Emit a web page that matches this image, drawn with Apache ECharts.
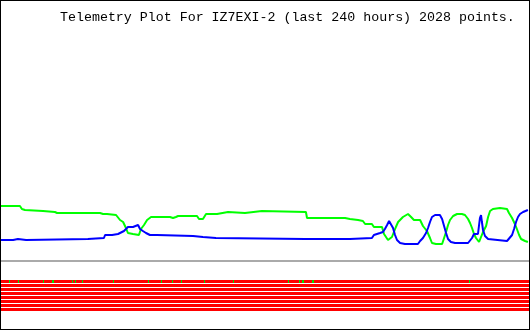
<!DOCTYPE html>
<html><head><meta charset="utf-8">
<script src="https://cdn.jsdelivr.net/npm/echarts@6/dist/echarts.min.js"></script>
<style>
html,body{margin:0;padding:0;background:#fff;}
#wrap{position:relative;width:530px;height:330px;}
#chart{width:530px;height:330px;}
#frame{position:absolute;left:0;top:0;width:530px;height:330px;box-sizing:border-box;border:1px solid #000;pointer-events:none;}
</style></head><body>
<div id="wrap"><div id="chart"></div><div id="frame"></div></div>
<script>
const titleText = 'Telemetry Plot For IZ7EXI-2 (last 240 hours) 2028 points.';

// analog channel A (green), hours into the 240 h window -> value
const greenHours = [0, 8.6, 9.5, 10.9, 11.8, 19.1, 20, 24.5, 25.5, 45, 46.4, 47.3, 48.2, 52.3, 53.2, 54.1, 55.5, 56.8, 57.7, 60, 62.7, 63.6, 65, 66.4, 68.2, 76.8, 78.2, 79.5, 80.5, 86.8, 87.3, 87.7, 89.1, 90, 91.8, 92.3, 93.2, 98.2, 98.6, 103.2, 104.1, 110.9, 111.8, 118.6, 119.5, 138.6, 139.1, 156.4, 158.6, 162.3, 164.5, 165.5, 168.6, 169.5, 173.2, 174.1, 175, 175.9, 176.8, 177.7, 178.6, 179.5, 180.5, 182.7, 185, 186.4, 187.7, 190.5, 191.8, 193.6, 195, 195.9, 197.7, 200.5, 201.4, 202.3, 203.2, 204.1, 205.5, 207.3, 209.5, 210.9, 212.3, 213.2, 214.1, 215, 215.9, 217.3, 218.2, 219.1, 220.5, 221.4, 222.3, 223.6, 226.8, 230, 230.9, 232.3, 233.6, 234.5, 235.5, 236.4, 238.2, 239.5];
const greenValues = [55, 55, 52, 51, 50, 50, 49, 49, 48, 48, 47, 45, 47, 46, 44, 41, 39, 33, 28, 27, 26, 32, 36, 41, 44, 44, 43, 44, 45, 45, 46, 43, 45, 42, 42, 44, 47, 47, 49, 49, 48, 48, 50, 50, 49, 49, 43, 43, 42, 41, 40, 37, 37, 34, 34, 27, 24, 21, 19, 24, 29, 34, 39, 44, 47, 44, 41, 41, 35, 30, 23, 18, 17, 17, 23, 29, 36, 41, 45, 47, 47, 46, 42, 38, 33, 27, 23, 19, 21, 29, 35, 44, 50, 52, 53, 52, 48, 43, 37, 32, 26, 22, 20, 19];

// analog channel B (blue)
const blueHours = [0, 5.5, 5.9, 7.7, 8.2, 11.4, 11.8, 39.5, 40, 46.8, 47.3, 50.5, 50.9, 53.2, 54.1, 55.9, 56.8, 57.7, 60, 60.5, 62.3, 63.2, 64.5, 65.9, 67.7, 70.9, 71.4, 87.3, 87.7, 91.8, 92.3, 97.7, 98.2, 138.2, 139.1, 139.5, 158.6, 159.5, 168.6, 169.5, 172.3, 173.6, 174.5, 175.5, 176.4, 177.3, 178.2, 179.1, 180, 181.4, 183.6, 189.5, 190.5, 191.8, 193.2, 194.1, 195, 195.9, 197.3, 199.5, 200.5, 201.4, 202.3, 203.2, 204.5, 206.4, 212.3, 213.2, 214.1, 215, 216.8, 217.7, 218.2, 218.6, 219.1, 220, 221.4, 222.3, 230, 230.9, 232.3, 233.2, 234.1, 235, 235.9, 237.3, 239.5];
const blueValues = [21, 21, 22, 22, 21, 21, 22, 22, 23, 23, 26, 26, 27, 27, 29, 30, 31, 34, 34, 36, 36, 32, 30, 28, 26, 26, 25, 25, 24, 24, 23, 23, 22, 22, 21, 22, 22, 23, 23, 26, 28, 29, 32, 36, 40, 41, 33, 26, 21, 18, 17, 17, 20, 23, 28, 33, 39, 44, 46, 46, 42, 35, 28, 22, 19, 18, 18, 19, 23, 27, 27, 43, 46, 39, 31, 25, 22, 21, 20, 22, 26, 32, 39, 44, 47, 49, 51];

// digital bits
const bitNames = ['B1', 'B2', 'B3', 'B4', 'B5', 'B6', 'B7', 'B8'];
const bitOnStart = [3.64, 7.73, 19.09, 23.18, 32.27, 33.64, 36.82, 50.91, 66.82, 72.73, 77.73, 81.82, 92.27, 105.45, 130.45, 135.45, 136.82, 141.36, 212.73];
const bitOnEnd   = [4.09, 8.18, 19.55, 24.09, 32.73, 34.09, 37.27, 51.36, 67.27, 73.18, 78.18, 82.27, 92.73, 105.91, 130.91, 135.91, 137.73, 142.27, 213.18];
const bitOnRow   = [0, 0, 0, 0, 0, 0, 0, 0, 0, 0, 0, 0, 0, 0, 0, 0, 0, 0, 0];

const zip = (xs, ys) => xs.map((x, i) => [x, ys[i]]);

const chart = echarts.init(document.getElementById('chart'), null, {renderer: 'canvas'});
chart.setOption({
  animation: false,
  backgroundColor: '#ffffff',
  title: {
    text: titleText, left: 60, top: 11, padding: 0,
    textStyle: {fontFamily: 'Liberation Mono', fontSize: 13.3, fontWeight: 'normal', color: '#000000'}
  },
  tooltip: {show: false},
  grid: [
    {left: 1, right: 1, top: 6, bottom: 69},
    {left: 1, right: 1, top: 279.5, height: 32}
  ],
  xAxis: [
    {type: 'value', gridIndex: 0, min: 0, max: 240,
     axisLine: {show: true, onZero: false, lineStyle: {color: '#aaaaaa', width: 2}},
     axisTick: {show: false}, axisLabel: {show: false}, splitLine: {show: false}},
    {type: 'value', gridIndex: 1, min: 0, max: 240, show: false}
  ],
  yAxis: [
    {type: 'value', gridIndex: 0, min: 0, max: 255, show: false},
    {type: 'category', gridIndex: 1, data: bitNames, inverse: true, show: false}
  ],
  series: [
    {type: 'line', xAxisIndex: 0, yAxisIndex: 0, data: zip(greenHours, greenValues),
     showSymbol: false, silent: true, lineStyle: {width: 2, color: '#00ff00'}, itemStyle: {color: '#00ff00'}, z: 3},
    {type: 'line', xAxisIndex: 0, yAxisIndex: 0, data: zip(blueHours, blueValues),
     showSymbol: false, silent: true, lineStyle: {width: 2, color: '#0000ff'}, itemStyle: {color: '#0000ff'}, z: 4},
    {type: 'custom', xAxisIndex: 1, yAxisIndex: 1, silent: true,
     data: bitNames.map((n, i) => [0, i]), encode: {x: 0, y: 1},
     renderItem: function (params, api) {
       const row = api.value(1);
       const a = api.coord([0, row]);
       const b = api.coord([240, row]);
       return {type: 'rect', shape: {x: a[0], y: a[1] - 1.5, width: b[0] - a[0], height: 3}, style: {fill: '#ff0000'}};
     }, z: 2},
    {type: 'custom', xAxisIndex: 1, yAxisIndex: 1, silent: true,
     data: bitOnStart.map((s, i) => [s, bitOnEnd[i], bitOnRow[i]]), encode: {x: [0, 1], y: 2},
     renderItem: function (params, api) {
       const row = api.value(2);
       const a = api.coord([api.value(0), row]);
       const b = api.coord([api.value(1), row]);
       const x0 = Math.round(a[0]);
       const x1 = Math.max(x0 + 1, Math.round(b[0]));
       return {type: 'rect', shape: {x: x0, y: a[1] - 1.5, width: x1 - x0, height: 3}, style: {fill: '#00dd00'}};
     }, z: 3}
  ]
});
</script>
</body></html>
